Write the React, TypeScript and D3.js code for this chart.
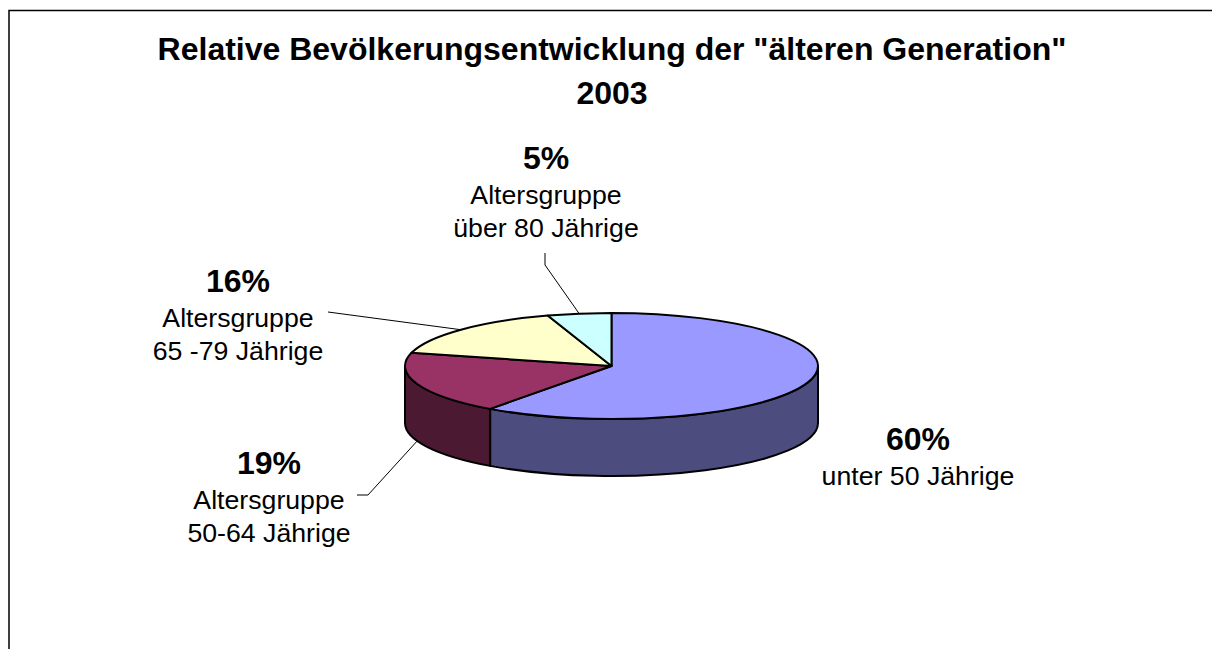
import React from "react";
import * as d3 from "d3";

// data
const categories = ["unter 50 Jährige", "Altersgruppe 50-64 Jährige", "Altersgruppe 65 -79 Jährige", "Altersgruppe über 80 Jährige"];
const shares = [60, 19, 16, 5];
const percentLabels = ["60%", "19%", "16%", "5%"];
const labelLines = [
  ["unter 50 Jährige"],
  ["Altersgruppe", "50-64 Jährige"],
  ["Altersgruppe", "65 -79 Jährige"],
  ["Altersgruppe", "über 80 Jährige"],
];
const titleLines = ['Relative Bevölkerungsentwicklung der "älteren Generation"', "2003"];

const topColors = ["#9999ff", "#993366", "#ffffcc", "#ccffff"];
const sideColors = ["#4c4c7f", "#4c1933", "#7f7f66", "#667f7f"];

// layout
const W = 1212;
const H = 649;
const cx = 611.5;
const cy = 366;
const rx = 206.5;
const ry = 53;
const depth = 57;
const FONT = "'Liberation Sans', Arial, Helvetica, sans-serif";

// label anchors (center x, baseline of the percent line) + leader start points
const labelLayout = [
  { x: 918, y: 450, leader: null as null | [number, number][] },
  { x: 269, y: 474, leader: [[357, 495], [368, 495]] as [number, number][] },
  { x: 238, y: 292, leader: [[328, 312]] as [number, number][] },
  { x: 546, y: 169, leader: [[545, 253], [545, 265]] as [number, number][] },
];

const proj = (a: number, dz = 0): [number, number] => [cx + rx * Math.sin(a), cy - ry * Math.cos(a) + dz];
const pt = (p: [number, number]) => `${p[0].toFixed(2)},${p[1].toFixed(2)}`;

export default function App() {
  const arcs = d3.pie<number>().sort(null).value((d) => d).startAngle(0).endAngle(2 * Math.PI)(shares);

  const tops = arcs.map((a) => {
    const large = a.endAngle - a.startAngle > Math.PI ? 1 : 0;
    return `M${cx},${cy} L${pt(proj(a.startAngle))} A${rx},${ry} 0 ${large} 1 ${pt(proj(a.endAngle))} Z`;
  });

  // visible front wall of each slice (between 3 and 9 o'clock)
  const sides = arcs.map((a) => {
    const s = Math.max(a.startAngle, Math.PI / 2);
    const e = Math.min(a.endAngle, (3 * Math.PI) / 2);
    if (e <= s) return null;
    return `M${pt(proj(s))} A${rx},${ry} 0 0 1 ${pt(proj(e))} L${pt(proj(e, depth))} A${rx},${ry} 0 0 0 ${pt(proj(s, depth))} Z`;
  });

  const leaderLine = d3.line<[number, number]>();

  return (
    <svg width={W} height={H} style={{ position: "absolute", left: 0, top: 0, background: "#fff" }} fontFamily={FONT}>
      <rect x={0} y={0} width={W} height={H} fill="#fff" />
      <path d={`M9,${H} V10.5 H${W}`} fill="none" stroke="#000" strokeWidth={1.5} />

      <text x={612} y={60} textAnchor="middle" fontSize={32} fontWeight="bold" fill="#000">
        {titleLines[0]}
      </text>
      <text x={612} y={104} textAnchor="middle" fontSize={32} fontWeight="bold" fill="#000">
        {titleLines[1]}
      </text>

      <g stroke="#000" strokeWidth={2} strokeLinejoin="round">
        {sides.map((d, i) => (d ? <path key={"s" + i} d={d} fill={sideColors[i]} /> : null))}
        {tops.map((d, i) => (
          <path key={"t" + i} d={d} fill={topColors[i]}>
            <title>{categories[i]}</title>
          </path>
        ))}
      </g>

      {arcs.map((a, i) => {
        const lay = labelLayout[i];
        if (!lay.leader) return null;
        const mid = (a.startAngle + a.endAngle) / 2;
        const onSide = mid > Math.PI / 2 && mid < (3 * Math.PI) / 2;
        const end = proj(mid, onSide ? depth : 0);
        return (
          <path key={"l" + i} d={leaderLine([...lay.leader, end]) || ""} fill="none" stroke="#000" strokeWidth={1} />
        );
      })}

      {labelLayout.map((lay, i) => (
        <g key={"lab" + i} textAnchor="middle" fill="#000">
          <text x={lay.x} y={lay.y} fontSize={32} fontWeight="bold">
            {percentLabels[i]}
          </text>
          {labelLines[i].map((line, j) => (
            <text key={j} x={lay.x} y={lay.y + 35 + j * 33} fontSize={26.7}>
              {line}
            </text>
          ))}
        </g>
      ))}
    </svg>
  );
}
